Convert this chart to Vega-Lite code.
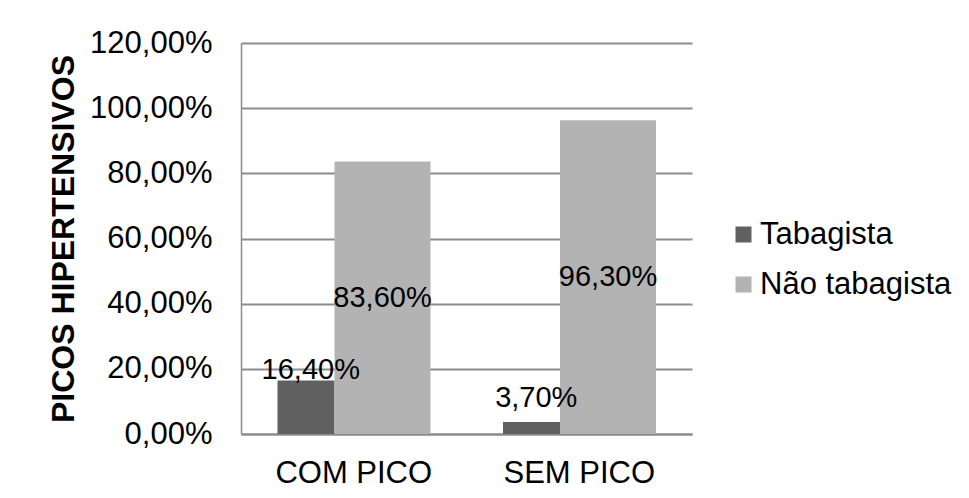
{
  "$schema": "https://vega.github.io/schema/vega-lite/v6.json",
  "width": 451,
  "height": 391,
  "autosize": {"type": "none"},
  "padding": {"left": 241, "top": 43, "right": 277, "bottom": 64},
  "background": "white",
  "config": {
    "locale": {"number": {"decimal": ",", "thousands": ".", "grouping": [3], "currency": ["R$", ""]}},
    "view": {"stroke": null},
    "font": "Liberation Sans"
  },
  "data": {
    "values": [
      {"category": "COM PICO", "series": "Tabagista", "value": 0.164},
      {"category": "COM PICO", "series": "Não tabagista", "value": 0.836},
      {"category": "SEM PICO", "series": "Tabagista", "value": 0.037},
      {"category": "SEM PICO", "series": "Não tabagista", "value": 0.963}
    ]
  },
  "encoding": {
    "x": {
      "field": "category",
      "type": "nominal",
      "scale": {"domain": ["COM PICO", "SEM PICO"], "paddingInner": 0, "paddingOuter": 0},
      "axis": {
        "title": null,
        "labelAngle": 0,
        "labelFont": "Liberation Sans",
        "labelFontSize": 31,
        "labelColor": "black",
        "ticks": false,
        "tickSize": 0,
        "labelPadding": 24.5,
        "domainColor": "#8c8c8c",
        "domainWidth": 2
      }
    }
  },
  "layer": [
    {
      "transform": [{"filter": "datum.series === 'Tabagista'"}],
      "mark": {"type": "bar", "width": 57, "xOffset": -47.75},
      "encoding": {
        "y": {
          "field": "value",
          "type": "quantitative",
          "scale": {"domain": [0, 1.2], "nice": false, "zero": true},
          "axis": {
            "values": [0, 0.2, 0.4, 0.6, 0.8, 1.0, 1.2],
            "format": ".2%",
            "grid": true,
            "gridColor": "#8c8c8c",
            "gridWidth": 2,
            "domainColor": "#8c8c8c",
            "domainWidth": 1.5,
            "ticks": false,
            "tickSize": 0,
            "labelFont": "Liberation Sans",
            "labelFontSize": 31,
            "labelColor": "black",
            "labelPadding": 29,
            "title": "PICOS HIPERTENSIVOS",
            "titleFont": "Liberation Sans",
            "titleFontSize": 32,
            "titleFontWeight": "bold",
            "titleColor": "black",
            "titlePadding": 9
          }
        },
        "color": {
          "field": "series",
          "type": "nominal",
          "scale": {"domain": ["Tabagista", "Não tabagista"], "range": ["#606060", "#b3b3b3"]},
          "legend": {
            "title": null,
            "orient": "none",
            "legendX": 487,
            "legendY": 176,
            "padding": 0,
            "labelFont": "Liberation Sans",
            "labelFontSize": 31,
            "labelColor": "black",
            "labelLimit": 0,
            "symbolType": "square",
            "symbolSize": 256,
            "symbolStrokeWidth": 0,
            "labelOffset": 1,
            "rowPadding": 18
          }
        }
      }
    },
    {
      "transform": [{"filter": "datum.series === 'Não tabagista'"}],
      "mark": {"type": "bar", "width": 96, "xOffset": 28.75},
      "encoding": {
        "y": {
          "field": "value",
          "type": "quantitative",
          "scale": {"domain": [0, 1.2], "nice": false, "zero": true},
          "axis": null
        },
        "color": {"field": "series", "type": "nominal"}
      }
    },
    {
      "transform": [{"filter": "datum.series === 'Tabagista'"}],
      "mark": {"type": "text", "fontSize": 29, "font": "Liberation Sans", "xOffset": -43, "baseline": "middle", "color": "black"},
      "encoding": {
        "y": {
          "field": "value",
          "type": "quantitative",
          "scale": {"domain": [-0.1326, 1.686], "nice": false, "zero": false},
          "axis": null
        },
        "text": {"field": "value", "type": "quantitative", "format": ".2%"}
      }
    },
    {
      "transform": [{"filter": "datum.series === 'Não tabagista'"}],
      "mark": {"type": "text", "fontSize": 29, "font": "Liberation Sans", "xOffset": 28.75, "baseline": "middle", "color": "black"},
      "encoding": {
        "y": {
          "field": "value",
          "type": "quantitative",
          "scale": {"domain": [0, 2.4], "nice": false, "zero": true},
          "axis": null
        },
        "text": {"field": "value", "type": "quantitative", "format": ".2%"}
      }
    }
  ],
  "resolve": {"scale": {"y": "independent"}}
}
